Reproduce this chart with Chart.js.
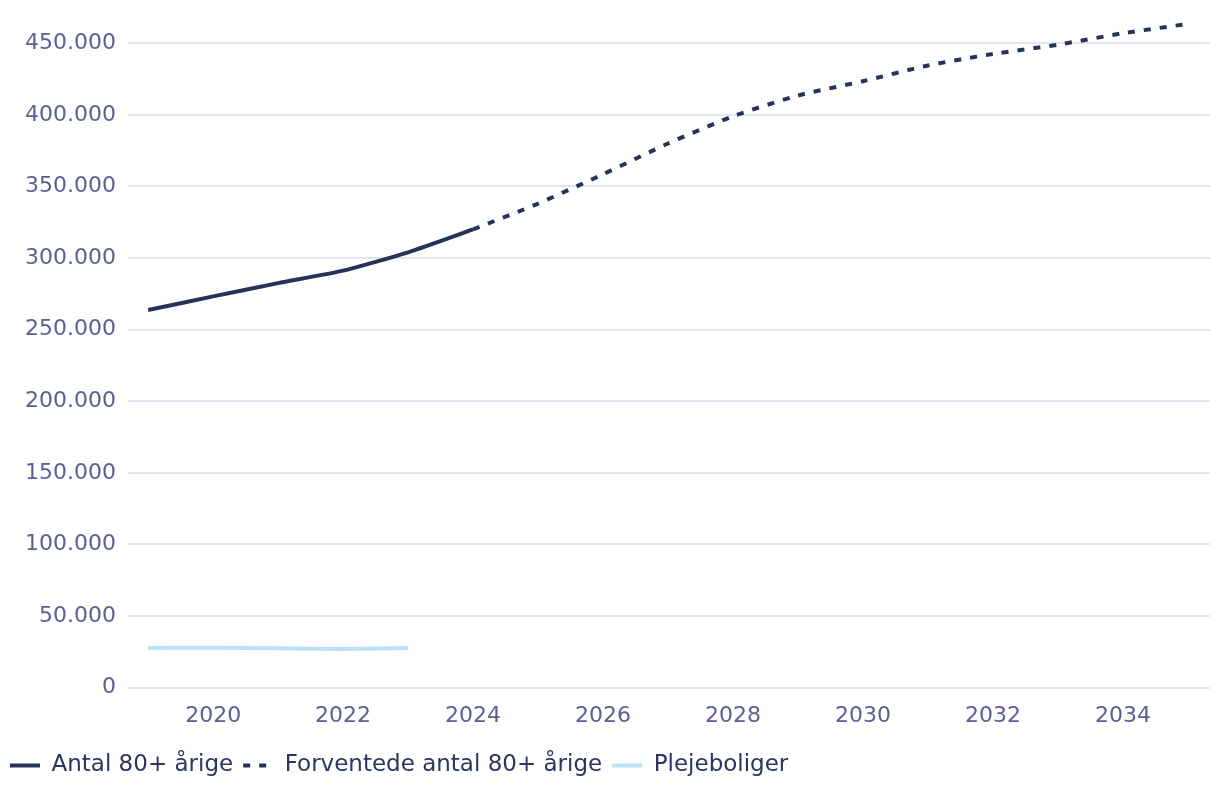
<!DOCTYPE html>
<html lang="da">
<head>
  <meta charset="UTF-8">
  <title>Antal 80+ årige og plejeboliger</title>
  <script src="https://cdn.jsdelivr.net/npm/chart.js"></script>
  <style>
    * { box-sizing: border-box; }
    html, body { margin: 0; padding: 0; background: #ffffff; }
    .wrap { width: 1220px; height: 802px; position: relative; }
  </style>
</head>
<body>
  <div class="wrap">
    <canvas id="graf"></canvas>
  </div>
  <script>
// data
const aarFaktisk = [2019, 2020, 2021, 2022, 2023, 2024];
const antal80 = [263700, 273200, 282500, 291200, 304000, 320000];

const aarPrognose = [2024, 2025, 2026, 2027, 2028, 2029, 2030, 2031, 2032, 2033, 2034, 2035];
const prognose80 = [320000, 338000, 358500, 380000, 399000, 413500, 423500, 434500, 442500, 449000, 457000, 463500];

const aarPleje = [2019, 2020, 2021, 2022, 2023];
const plejeboliger = [27700, 27800, 27400, 27000, 27600];

const xTicks = [2020, 2022, 2024, 2026, 2028, 2030, 2032, 2034];
const yTicks = [0, 50000, 100000, 150000, 200000, 250000, 300000, 350000, 400000, 450000];

const navy = '#253358';
const lyseblaa = '#b9e2f6';
const tekstFarve = '#5b6094';
const gitter = '#e6e4f2';
const skrift = "'DejaVu Sans', sans-serif";

function punkter(xs, ys) {
  return xs.map((x, i) => ({ x: x, y: ys[i] }));
}

function tal(v) {
  return Math.round(v).toString().replace(/\B(?=(\d{3})+(?!\d))/g, '.');
}

// legenden skal vise streger, også den stiplede
function legendeLabels(chart) {
  return chart.data.datasets.map((ds, i) => ({
    text: ds.label,
    datasetIndex: i,
    strokeStyle: ds.borderColor,
    fillStyle: ds.borderColor,
    lineWidth: 4,
    lineDash: ds.borderDash || [],
    lineCap: 'butt',
    pointStyle: 'line',
    fontColor: '#2c3561',
    hidden: false
  }));
}

const ctx = document.getElementById('graf').getContext('2d');
new Chart(ctx, {
  type: 'line',
  data: {
    datasets: [
      {
        label: 'Antal 80+ årige',
        data: punkter(aarFaktisk, antal80),
        borderColor: navy,
        borderWidth: 4,
        pointRadius: 0,
        tension: 0.2,
        fill: false
      },
      {
        label: 'Forventede antal 80+ årige',
        data: punkter(aarPrognose, prognose80),
        borderColor: navy,
        borderWidth: 4,
        borderDash: [7, 9],
        pointRadius: 0,
        tension: 0.2,
        fill: false,
        clip: 6
      },
      {
        label: 'Plejeboliger',
        data: punkter(aarPleje, plejeboliger),
        borderColor: lyseblaa,
        borderWidth: 4,
        pointRadius: 0,
        tension: 0.2,
        fill: false
      }
    ]
  },
  options: {
    responsive: true,
    maintainAspectRatio: false,
    animation: false,
    layout: { padding: { top: 3, right: 10, left: 0, bottom: 15 } },
    plugins: {
      tooltip: { enabled: false },
      legend: {
        position: 'bottom',
        align: 'start',
        labels: {
          usePointStyle: true,
          pointStyleWidth: 30,
          boxHeight: 4,
          color: '#2c3561',
          font: { family: skrift, size: 23 },
          padding: 10,
          generateLabels: legendeLabels
        }
      }
    },
    scales: {
      x: {
        type: 'linear',
        min: 2018.69,
        max: 2035.34,
        afterBuildTicks: (s) => { s.ticks = xTicks.map(v => ({ value: v })); },
        grid: { display: false, drawTicks: false },
        border: { display: false },
        ticks: {
          color: tekstFarve,
          font: { family: skrift, size: 22 },
          padding: 15,
          maxRotation: 0,
          callback: (v) => String(v)
        }
      },
      y: {
        min: 0,
        max: 462600,
        afterBuildTicks: (s) => { s.ticks = yTicks.map(v => ({ value: v })); },
        afterFit: (s) => { s.width = 128; },
        grid: { color: gitter, lineWidth: 2, drawTicks: false },
        border: { display: false },
        ticks: {
          color: tekstFarve,
          font: { family: skrift, size: 22 },
          padding: 12,
          callback: (v) => tal(v)
        }
      }
    }
  }
});
  </script>
</body>
</html>
